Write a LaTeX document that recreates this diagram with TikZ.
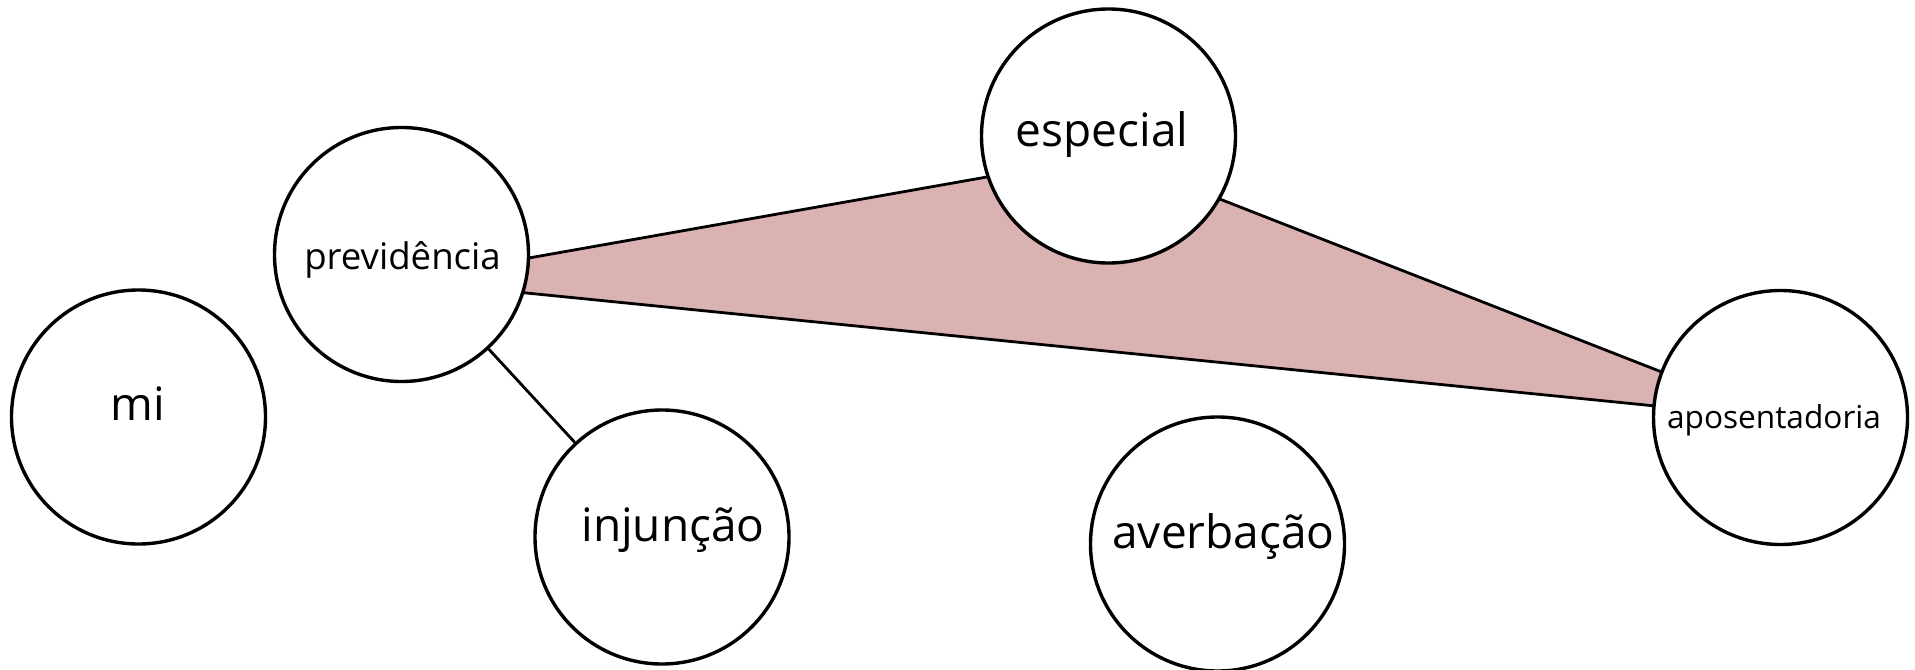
\documentclass[tikz,border=0pt]{standalone}
\usepackage{fontspec}
\setmainfont{Open Sans}
\definecolor{trifill}{HTML}{DBB2B2}
\begin{document}
\begin{tikzpicture}[x=0.5pt,y=-0.5pt,
  termnode/.style={circle,draw=black,line width=1.7pt,fill=white,minimum size=127pt,inner sep=0pt},
  termtext/.style={anchor=base,inner sep=0pt,text=black},
  bigtext/.style={termtext,font=\fontsize{23}{28}\selectfont},
  edgeline/.style={draw=black,line width=1.4pt}
]
\useasboundingbox (0,0) rectangle (1915,669);
\coordinate (vp) at (401.5,280.5);
\coordinate (ve) at (1108.5,155.5);
\coordinate (va) at (1780.5,418.5);
\filldraw[fill=trifill,edgeline,line join=round] (vp) -- (ve) -- (va) -- cycle;
\node[termnode] (mi) at (138.5,417) {};
\node[termnode] (prev) at (401.5,254.5) {};
\node[termnode] (inj) at (662,537) {};
\node[termnode] (esp) at (1108.5,136) {};
\node[termnode] (averb) at (1217.5,544) {};
\node[termnode] (apos) at (1780.5,417.5) {};
\draw[edgeline] (prev) -- (inj);
\node[bigtext] (tmi) at (138,420) {mi};
\node[termtext,font=\fontsize{18.3}{22}\selectfont] (tprev) at (402.5,269.3) {previdência};
\node[bigtext] (tinj) at (673,541.7) {injunção};
\node[bigtext] (tesp) at (1102,146.7) {especial};
\node[bigtext] (taverb) at (1223.5,548.3) {averbação};
\node[termtext,font=\fontsize{15.8}{19}\selectfont] (tapos) at (1774,428.3) {aposentadoria};
\end{tikzpicture}
\end{document}
